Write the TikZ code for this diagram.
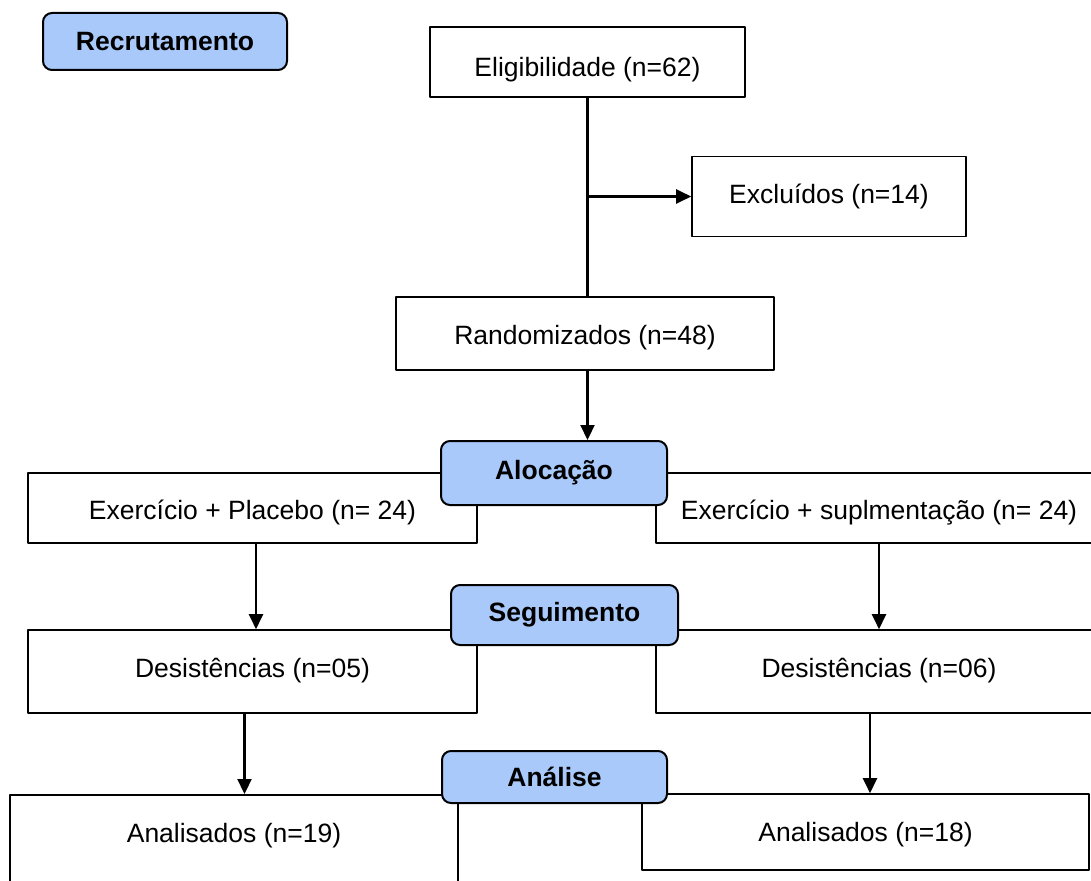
\documentclass[tikz,border=0pt]{standalone}
\usepackage{fontspec}
\setmainfont{Liberation Sans}
\usetikzlibrary{arrows.meta}
\definecolor{phaseblue}{HTML}{A9C9FA}

\begin{document}
\begin{tikzpicture}[x=1pt,y=-1pt,line cap=round,line join=round,
  font=\fontsize{26.5}{30}\selectfont,
  whitebox/.style={draw,line width=1.6pt,fill=white,inner sep=0pt,text height=24,text depth=2},
  phase/.style={draw,line width=2pt,fill=phaseblue,rounded corners=9pt,inner sep=0pt,font=\fontsize{26.5}{30}\selectfont\bfseries},
  arr/.style={-{Triangle[length=15pt,width=14pt]},line width=2.2pt}]
\useasboundingbox (0,0) rectangle (1091,880);
\clip (0,0) rectangle (1091,880);
% white boxes
\node[whitebox,minimum width=315,minimum height=70,text height=31] (elig) at (587.5,62) {Eligibilidade (n=62)};
\node[whitebox,minimum width=274,minimum height=80,text height=16] (excl) at (829,196.5) {Exclu\'idos (n=14)};
\node[whitebox,minimum width=378,minimum height=73] (rand) at (585,333.5) {Randomizados (n=48)};
\node[whitebox,minimum width=449,minimum height=70] (placebo) at (252.5,508) {Exerc\'icio + Placebo (n= 24)};
\node[whitebox,minimum width=446,minimum height=70] (supl) at (879,508) {Exerc\'icio + suplmenta\c{c}\~ao (n= 24)};
\node[whitebox,minimum width=449,minimum height=83,text height=14] (desistA) at (252.5,671.5) {Desist\^encias (n=05)};
\node[whitebox,minimum width=446,minimum height=83,text height=14] (desistB) at (879,671.5) {Desist\^encias (n=06)};
\node[whitebox,minimum width=448,text height=47.5,text depth=60,anchor=north] (anlsA) at (234,794) {Analisados (n=19)};
\node[whitebox,minimum width=447,minimum height=76,text height=20] (anlsB) at (865.5,832) {Analisados (n=18)};
% phase labels
\node[phase,minimum width=244,minimum height=57] (recr) at (165,41.5) {Recrutamento};
\node[phase,minimum width=226,minimum height=64] (aloc) at (554,473) {Aloca\c{c}\~ao};
\node[phase,minimum width=227,minimum height=60] (seg) at (564.5,615) {Seguimento};
\node[phase,minimum width=225,minimum height=52] (analise) at (554.5,777) {An\'alise};
% connectors
\coordinate (split) at (elig.south |- excl.west);
\draw[line width=2.2pt] (elig.south) -- (elig.south |- rand.north);
\draw[arr] (split) -- (excl.west);
\draw[arr] (rand.south -| elig.south) -- (aloc.north -| elig.south);
\draw[arr] ([xshift=3.5pt]placebo.south) -- ([xshift=3.5pt]desistA.north);
\draw[arr] (supl.south) -- (desistB.north);
\draw[arr] ([xshift=-8pt]desistA.south) -- ([xshift=-8pt]desistA.south |- anlsA.north);
\draw[arr] ([xshift=-9pt]desistB.south) -- ([xshift=-9pt]desistB.south |- anlsB.north);
\end{tikzpicture}
\end{document}
